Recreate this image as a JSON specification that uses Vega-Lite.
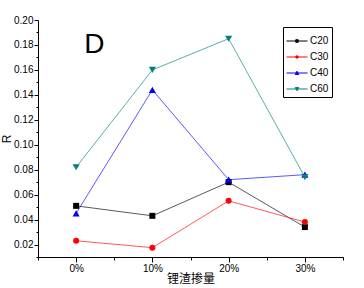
{
  "$schema": "https://vega.github.io/schema/vega-lite/v6.json",
  "autosize": "none",
  "width": 305,
  "height": 237,
  "padding": {"left": 38, "top": 20, "right": 21, "bottom": 31},
  "background": "white",
  "config": {
    "view": {"stroke": null},
    "font": "Liberation Sans",
    "axis": {"grid": false, "domainColor": "#000", "tickColor": "#000", "labelColor": "#000", "titleColor": "#000", "labelFont": "Liberation Sans", "labelFontSize": 10, "titleFontWeight": "normal"},
    "legend": {"title": null, "orient": "none", "legendX": 245, "legendY": 7,
        "strokeColor": "#000", "padding": 3, "fillColor": "white",
        "labelFontSize": 10, "labelFont": "Liberation Sans", "labelOffset": 2, "rowPadding": -6,
        "symbolSize": 441, "symbolStrokeWidth": 1, "symbolOpacity": 1}
  },
  "data": {"values": [
    {"x": 0, "s": "C20", "R": 0.051},
    {"x": 1, "s": "C20", "R": 0.043},
    {"x": 2, "s": "C20", "R": 0.070},
    {"x": 3, "s": "C20", "R": 0.034},
    {"x": 0, "s": "C30", "R": 0.023},
    {"x": 1, "s": "C30", "R": 0.0175},
    {"x": 2, "s": "C30", "R": 0.055},
    {"x": 3, "s": "C30", "R": 0.038},
    {"x": 0, "s": "C40", "R": 0.045},
    {"x": 1, "s": "C40", "R": 0.144},
    {"x": 2, "s": "C40", "R": 0.072},
    {"x": 3, "s": "C40", "R": 0.076},
    {"x": 0, "s": "C60", "R": 0.082},
    {"x": 1, "s": "C60", "R": 0.160},
    {"x": 2, "s": "C60", "R": 0.185},
    {"x": 3, "s": "C60", "R": 0.074}
  ]},
  "encoding": {
    "x": {"field": "x", "type": "quantitative",
      "scale": {"domain": [-0.5, 3.5], "nice": false, "zero": false},
      "axis": {"title": "锂渣掺量", "titleFont": "Noto Sans CJK SC", "titleFontSize": 12, "titlePadding": 0,
        "values": [-0.5, 0, 0.5, 1, 1.5, 2, 2.5, 3, 3.5],
        "labelExpr": "datum.value % 1 === 0 ? (datum.value * 10) + '%' : ''",
        "tickSize": {"condition": {"test": "datum.value % 1 !== 0", "value": 3}, "value": 5},
        "labelPadding": 1}},
    "y": {"field": "R", "type": "quantitative",
      "scale": {"domain": [0.01, 0.2], "nice": false, "zero": false},
      "axis": {"title": "R", "titleFont": "Liberation Sans", "titleFontSize": 12, "titlePadding": 0,
        "values": [0.01, 0.02, 0.03, 0.04, 0.05, 0.06, 0.07, 0.08, 0.09, 0.10, 0.11, 0.12, 0.13, 0.14, 0.15, 0.16, 0.17, 0.18, 0.19, 0.20],
        "labelExpr": "round(datum.value * 100) % 2 === 0 ? format(datum.value, '.2f') : ''",
        "tickSize": {"condition": {"test": "round(datum.value * 100) % 2 === 1", "value": 2}, "value": 4},
        "labelPadding": 1}}
  },
  "layer": [
    {"transform": [{"filter": "false"}],
      "mark": {"type": "point", "filled": true, "size": 441, "strokeWidth": 1},
      "encoding": {
        "color": {"field": "s", "type": "nominal", "scale": {"domain": ["C20", "C30", "C40", "C60"], "range": ["#000000", "#ff0000", "#0000ff", "#008080"]}},
        "stroke": {"field": "s", "type": "nominal", "scale": {"domain": ["C20", "C30", "C40", "C60"], "range": ["#000000", "#ff0000", "#0000ff", "#008080"]}},
        "shape": {"field": "s", "type": "nominal",
        "scale": {"domain": ["C20", "C30", "C40", "C60"], "range": [
          "M-1,0H1M-0.12,-0.12H0.12V0.12H-0.12Z",
          "M-1,0H1M-0.12,0A0.12,0.12 0 1 0 0.12,0A0.12,0.12 0 1 0 -0.12,0Z",
          "M-1,0H1M-0.17,0.14L0,-0.17L0.17,0.14Z",
          "M-1,0H1M-0.17,-0.14L0,0.17L0.17,-0.14Z"]}}}},
    {"mark": {"type": "line", "strokeWidth": 1, "strokeOpacity": 0.65},
      "encoding": {"color": {"field": "s", "type": "nominal"}}},
    {"transform": [{"filter": "datum.s === 'C20'"}], "mark": {"type": "point", "filled": true, "opacity": 1, "size": 36, "shape": "square"}, "encoding": {"color": {"field": "s", "type": "nominal"}}},
    {"transform": [{"filter": "datum.s === 'C30'"}], "mark": {"type": "point", "filled": true, "opacity": 1, "size": 36, "shape": "circle"}, "encoding": {"color": {"field": "s", "type": "nominal"}}},
    {"transform": [{"filter": "datum.s === 'C40'"}], "mark": {"type": "point", "filled": true, "opacity": 1, "size": 50, "shape": "triangle-up"}, "encoding": {"color": {"field": "s", "type": "nominal"}}},
    {"transform": [{"filter": "datum.s === 'C60'"}], "mark": {"type": "point", "filled": true, "opacity": 1, "size": 50, "shape": "triangle-down"}, "encoding": {"color": {"field": "s", "type": "nominal"}}},
    {"data": {"values": [{"label": "D", "x": 0.24, "R": 0.18}]},
      "mark": {"type": "text", "fontSize": 28, "font": "Liberation Sans", "fill": "#000", "align": "center", "baseline": "middle"},
      "encoding": {"text": {"field": "label", "type": "nominal"}}}
  ]
}
